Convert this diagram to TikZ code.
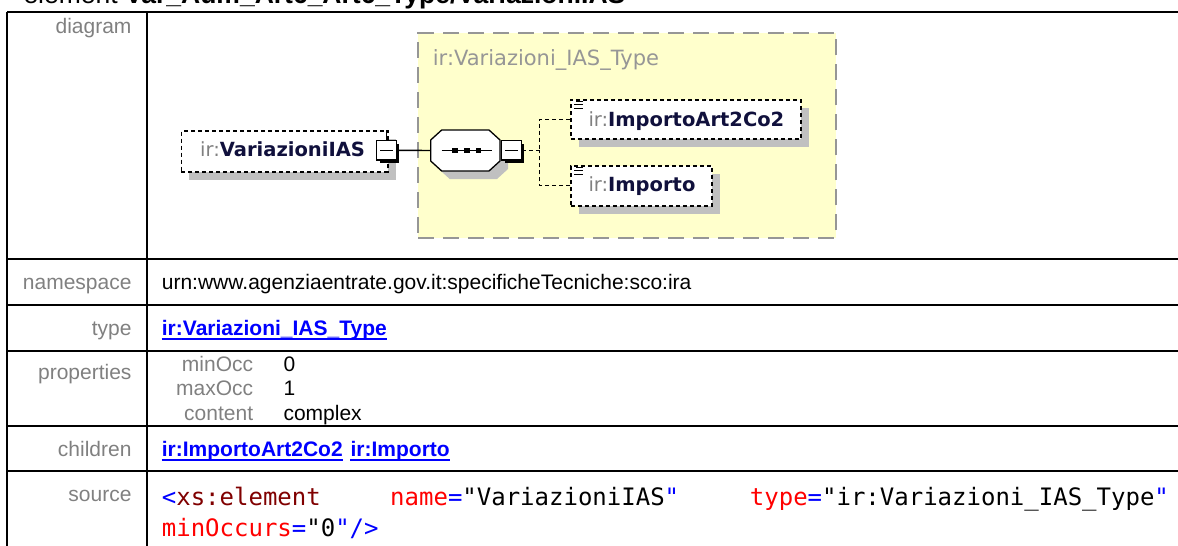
\documentclass[tikz,border=0pt]{standalone}
\usepackage{fontspec}
\setmainfont{Liberation Sans}
\newfontfamily\diagfont{DejaVu Sans}
\newfontfamily\codefont{DejaVu Sans Mono}
\usetikzlibrary{shadows,calc}
\definecolor{labelgray}{RGB}{128,128,128}
\definecolor{linkblue}{RGB}{0,0,255}
\definecolor{codered}{RGB}{255,0,0}
\definecolor{codedark}{RGB}{128,0,0}
\definecolor{shadowgray}{RGB}{192,192,192}
\definecolor{typegray}{RGB}{150,150,150}
\definecolor{typeyellow}{RGB}{255,255,204}
\definecolor{namenavy}{RGB}{16,16,60}
\definecolor{prefixgray}{RGB}{128,128,128}
\begin{document}
\begin{tikzpicture}[x=1pt,y=-1pt,
  tline/.style={line width=2pt, draw=black},
  lbl/.style={anchor=base east, inner sep=0pt, text=labelgray, font=\fontsize{21}{25}\selectfont},
  val/.style={anchor=base west, inner sep=0pt, text=black, font=\fontsize{21}{25}\selectfont},
  lnk/.style={anchor=base west, inner sep=0pt, text=linkblue, font=\fontsize{21}{25}\selectfont\bfseries},
  uline/.style={draw=linkblue, line width=1.5pt},
  code/.style={anchor=base west, inner sep=0pt, font=\codefont\fontsize{24}{28}\selectfont},
  typebox/.style={draw=typegray, dash pattern=on 16pt off 9pt, line width=2pt, fill=typeyellow, inner sep=0pt, anchor=north west},
  elbox/.style={draw=black, dash pattern=on 4pt off 3pt, line width=1.5pt, fill=white, inner sep=0pt, anchor=north west,
     drop shadow={shadow xshift=8pt, shadow yshift=-8pt, fill=shadowgray, opacity=1}},
  elname/.style={anchor=base west, inner sep=0pt, text=namenavy, font=\diagfont\fontsize{19.5}{23}\selectfont},
  mbox/.style={draw=black, line width=1.3pt, fill=white, minimum width=19.5pt, minimum height=19.5pt, inner sep=0pt,
     drop shadow={shadow xshift=3pt, shadow yshift=-3pt, fill=black, opacity=1}},
  conn/.style={draw=black, line width=1.4pt},
  dconn/.style={draw=black, line width=1.4pt, dash pattern=on 4pt off 3pt}
]
\useasboundingbox (0,0) rectangle (1178,546);
\clip (0,0) rectangle (1178,546);

% title
\node[anchor=base west, inner sep=0pt, font=\fontsize{26.5}{30}\selectfont] (title) at (23.3,4)
  {element \textbf{Var\_Aum\_Art6\_Art6\_Type/VariazioniIAS}};

% table grid
\draw[tline] (7.3,11.7) -- (1185,11.7);
\foreach \yy in {259,305,350.7,425.7,470.7} \draw[tline] (7.3,\yy) -- (1185,\yy);
\draw[tline] (7.3,11.7) -- (7.3,560);
\draw[tline] (146.7,11.7) -- (146.7,560);

% labels
\node[lbl] (ldiag) at (131.7,33) {diagram};
\node[lbl] (lns) at (131.7,289.3) {namespace};
\node[lbl] (ltype) at (131.7,335) {type};
\node[lbl] (lprop) at (131.7,379.5) {properties};
\node[lbl] (lchild) at (131.7,456.5) {children};
\node[lbl] (lsrc) at (131.7,501.7) {source};

% values
\node[val] (vns) at (161.7,289.3) {urn:www.agenziaentrate.gov.it:specificheTecniche:sco:ira};
\node[lnk] (vtype) at (161.7,335) {ir:Variazioni\_IAS\_Type};
\draw[uline] ([yshift=-4pt]vtype.base west) -- ([yshift=-4pt]vtype.base east);

\node[lbl] (pmin) at (253.3,371.7) {minOcc};
\node[lbl] (pmax) at (253.3,395.5) {maxOcc};
\node[lbl] (pcon) at (253.3,420) {content};
\node[val] (vmin) at (283.3,371.7) {0};
\node[val] (vmax) at (283.3,395.5) {1};
\node[val] (vcon) at (283.3,420) {complex};

\node[lnk] (ch1) at (161.7,456.3) {ir:ImportoArt2Co2};
\node[lnk] (ch2) at ([xshift=7.5pt]ch1.base east) {ir:Importo};
\draw[uline] ([yshift=-3.5pt]ch1.base west) -- ([yshift=-3.5pt]ch1.base east);
\draw[uline] ([yshift=-3.5pt]ch2.base west) -- ([yshift=-3.5pt]ch2.base east);

% source code
\node[code] (s1) at (161.7,505.7) {\textcolor{linkblue}{<}\textcolor{codedark}{xs:element}};
\node[code] (s2) at (390,505.7) {\textcolor{codered}{name}\textcolor{linkblue}{=}"VariazioniIAS\textcolor{linkblue}{"}};
\node[code] (s3) at (749.7,505.7) {\textcolor{codered}{type}\textcolor{linkblue}{=}"ir:Variazioni\_IAS\_Type\textcolor{linkblue}{"}};
\node[code] (s4) at (161.7,536.7) {\textcolor{codered}{minOccurs}\textcolor{linkblue}{=}"0\textcolor{linkblue}{"/>}};

% ---------- diagram ----------
\node[typebox, minimum width=417.7pt, minimum height=205pt] (tb) at (417.3,31.7) {};
\node[anchor=base west, inner sep=0pt, text=typegray, font=\diagfont\fontsize{21}{25}\selectfont] (tbt) at (432.7,65) {ir:Variazioni\_IAS\_Type};

% element VariazioniIAS
\node[elbox, minimum width=206.6pt, minimum height=41pt] (var) at (180.7,130) {};
\node[elname] (vart) at (200,156.3) {\textcolor{prefixgray}{ir:}\textbf{VariazioniIAS}};

% sequence compositor
\node[minimum width=69.3pt, minimum height=41pt, inner sep=0pt] (seq) at (465.35,150.5) {};
\fill[shadowgray] (438.7,148) -- (449.7,138) -- (497,138) -- (508,148) -- (508,169) -- (497,179) -- (449.7,179) -- (438.7,169) -- cycle;
\draw[fill=white, line width=1.3pt] (430.7,140) -- (441.7,130) -- (489,130) -- (500,140) -- (500,161) -- (489,171) -- (441.7,171) -- (430.7,161) -- cycle;
\draw[line width=1.2pt] (441.7,150.3) -- (491.7,150.3);
\foreach \xx in {455,466.7,478.4} \fill (\xx-2.8,147.8) rectangle (\xx+2.8,152.8);

% minus boxes
\node[mbox] (m1) at (386.5,150.3) {};
\draw[line width=1.2pt] ([xshift=4pt]m1.west) -- ([xshift=-4pt]m1.east);
\node[mbox] (m2) at (511.5,150.3) {};
\draw[line width=1.2pt] ([xshift=4pt]m2.west) -- ([xshift=-4pt]m2.east);

% children
\node[elbox, minimum width=230pt, minimum height=39.3pt] (c1) at (570,99) {};
\node[elname] (c1t) at (588.3,126) {\textcolor{prefixgray}{ir:}\textbf{ImportoArt2Co2}};
\node[elbox, minimum width=141pt, minimum height=40pt] (c2) at (570,165) {};
\node[elname] (c2t) at (588.3,191.7) {\textcolor{prefixgray}{ir:}\textbf{Importo}};
\foreach \cc in {c1,c2} {
  \draw[line width=1pt] ([shift={(6pt,-2pt)}]\cc.north west) -- ++(7,0);
  \draw[line width=1pt] ([shift={(4pt,-5.5pt)}]\cc.north west) -- ++(9,0);
  \draw[line width=1pt] ([shift={(4pt,-9pt)}]\cc.north west) -- ++(9,0);
}

% connectors
\draw[line width=1.2pt] (m1.north) -- (m1.north |- var.north);
\draw[conn] (m1.east) -- (seq.west);
\coordinate (j) at (539.3,150.3);
\draw[dconn] (m2.east) -- (j);
\draw[dconn] (c1.west) -| (j);
\draw[dconn] (c2.west) -| (j);
\end{tikzpicture}
\end{document}
